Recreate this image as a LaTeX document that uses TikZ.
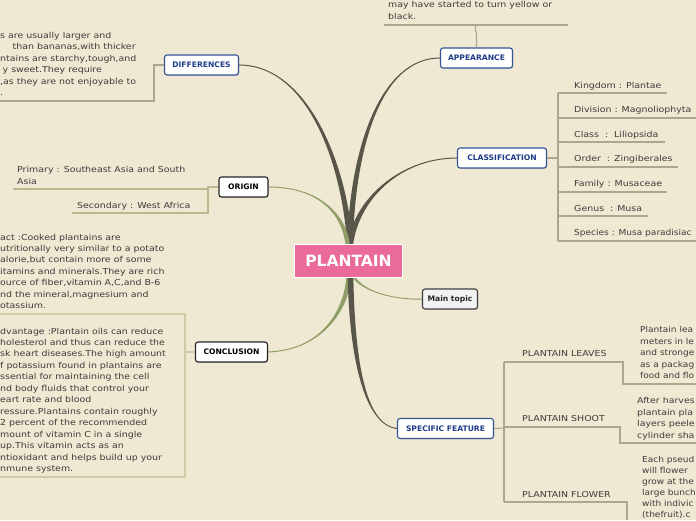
\documentclass[tikz,border=0pt]{standalone}
\usepackage{fontspec}
\setmainfont{DejaVu Sans}
\newfontfamily\bodyfont[FakeStretch=1.15]{DejaVu Sans}
\newfontfamily\narrowfont[FakeStretch=1.1]{DejaVu Sans}
\usetikzlibrary{calc,shadows}
\pgfdeclarelayer{back}
\pgfsetlayers{back,main}
\definecolor{bg}{RGB}{239,232,210}
\definecolor{pinkc}{RGB}{234,106,153}
\definecolor{darkbranch}{RGB}{88,86,72}
\definecolor{greenbranch}{RGB}{143,157,104}
\definecolor{nodeblue}{RGB}{52,84,150}
\definecolor{textblue}{RGB}{30,60,135}
\definecolor{txtgray}{RGB}{60,60,60}
\definecolor{grayline}{RGB}{170,166,146}
\definecolor{oliveline}{RGB}{182,188,142}
\definecolor{paleline}{RGB}{204,204,168}
% tapered branch: #1 end at topic, #2 #3 controls, #4 end in centre, #5 half width at topic, #6 half width at centre, #7 colour
\newcommand\branch[7]{\fill[#7] ($#1-#5$) .. controls ($#2-#5$) and ($#3-#6$) .. ($#4-#6$) -- ($#4+#6$) .. controls ($#3+#6$) and ($#2+#5$) .. ($#1+#5$) -- cycle;}
% lines of text: #1 name, #2 x, #3 first baseline, #4 line step, #5 list of lines
\newcommand\tlines[5]{\foreach \tline [count=\i] in {#5} {\node[txt,anchor=base west] (#1\i) at (#2,{#3+#4*(\i-1)}) {\tline};}}
\newcommand\tlinesn[5]{\foreach \tline [count=\i] in {#5} {\node[txt,font=\narrowfont\fontsize{8.2}{10}\selectfont,anchor=base west] (#1\i) at (#2,{#3+#4*(\i-1)}) {\tline};}}
\tikzset{
  topic/.style={draw, rounded corners=2.5pt, line width=1.1pt, fill=white, minimum height=20pt, inner sep=1pt,
    font=\bfseries\fontsize{7.6}{9}\selectfont,
    drop shadow={shadow xshift=0.7pt, shadow yshift=-0.9pt, opacity=0.3}},
  bluetopic/.style={topic, draw=nodeblue, text=textblue},
  blacktopic/.style={topic, draw=black!85, text=black},
  graytopic/.style={topic, draw=black!75, fill=black!5, text=black!85},
  txt/.style={font=\bodyfont\fontsize{8.2}{10}\selectfont, text=txtgray, inner sep=0pt},
  subline/.style={line width=1.1pt}
}
\begin{document}
\begin{tikzpicture}[x=1pt,y=-1pt]
\begin{pgfonlayer}{back}
\fill[bg] (0,0) rectangle (696,520);
\end{pgfonlayer}
\useasboundingbox (0,0) rectangle (696,520);

% central and main topics
\node[draw=white, line width=1.2pt, fill=pinkc, minimum width=108pt, minimum height=33pt, inner sep=0pt,
      text=white, font=\bfseries\fontsize{15.5}{18}\selectfont] (plantain) at (348.5,261) {PLANTAIN};
\node[bluetopic, minimum width=74pt] (diff) at (201.5,65) {DIFFERENCES};
\node[bluetopic, minimum width=72pt] (app) at (476.5,58) {APPEARANCE};
\node[bluetopic, minimum width=89pt] (class) at (502,158) {CLASSIFICATION};
\node[blacktopic, minimum width=49pt] (origin) at (243.5,187) {ORIGIN};
\node[graytopic, minimum width=55pt] (main) at (450,299) {Main topic};
\node[blacktopic, minimum width=72pt] (concl) at (231.5,352) {CONCLUSION};
\node[bluetopic, minimum width=96pt] (spec) at (445.5,428.5) {SPECIFIC FEATURE};

\coordinate (sA) at ($(plantain.north)+(1.5,3)$);
\coordinate (sO) at ($(plantain.north)+(-0.5,3)$);
\coordinate (sC) at ($(plantain.south)+(0.5,-3)$);
\coordinate (sS) at ($(plantain.south)+(2,-3)$);
\coordinate (sM) at ($(plantain.south)+(4,-3)$);

\begin{pgfonlayer}{back}
\branch{(diff.east)}{(310,65)}{(346,170)}{(sA)}{(0,0.5)}{(-2.8,0)}{darkbranch}
\branch{(app.west)}{(380,58)}{(352,150)}{(sA)}{(0,0.5)}{(2.8,0)}{darkbranch}
\branch{(class.west)}{(400,158)}{(355,200)}{(sA)}{(0,0.5)}{(2.8,0)}{darkbranch}
\branch{(origin.east)}{(320,187)}{(345,215)}{(sO)}{(0,0.5)}{(-2.2,0)}{greenbranch}
\branch{(concl.east)}{(322,350)}{(347,310)}{(sC)}{(0,0.5)}{(2.5,0)}{greenbranch}
\branch{(spec.west)}{(365,425)}{(352,360)}{(sS)}{(0,0.5)}{(-2.8,0)}{darkbranch}
\branch{(main.west)}{(395,300)}{(362,292)}{(sM)}{(0,0.5)}{(-1.5,0)}{greenbranch}
\end{pgfonlayer}

% DIFFERENCES
\draw[subline, grayline] (diff.west) -- (154,65) -- (154,101) -- (0,101);
\tlines{difftxt}{0}{38.3}{11.5}{{s are usually larger and},{\hspace*{12.5pt}than bananas,with thicker},{ntains are starchy,tough,and},{\hspace*{2.5pt}y sweet.They require},{,as they are not enjoyable to},{.}}

% APPEARANCE
\draw[subline, grayline] (384,25) -- (568,25);
\draw[subline, grayline] (app.north) -- (476.5,33) -- (475.5,31) -- (475.5,25);
\tlines{apptxt}{388}{7.5}{11.8}{{may have started to turn yellow or},{black.}}

% CLASSIFICATION
\draw[subline, grayline] (class.east) -- (558,158);
\draw[subline, grayline] (558,93) -- (558,241);
\draw[subline, grayline] (558,93) -- (667,93);
\draw[subline, grayline] (558,118) -- (696,118);
\draw[subline, grayline] (558,142) -- (665,142);
\draw[subline, grayline] (558,167) -- (678,167);
\draw[subline, grayline] (558,192) -- (667,192);
\draw[subline, grayline] (558,216) -- (648,216);
\draw[subline, grayline] (558,241) -- (696,241);
\tlines{cls}{574}{88}{24.65}{{Kingdom : Plantae},{Division : Magnoliophyta},{Class\ \ :\ \ Liliopsida},{Order\ \ : Zingiberales},{Family : Musaceae},{Genus\ \ : Musa}}
\tlinesn{clsb}{574}{235.9}{24.65}{{Species : Musa paradisiac}}

% ORIGIN
\draw[subline, oliveline] (origin.west) -- (208,187) -- (208,213) -- (72,213);
\draw[subline, oliveline] (208,189) -- (13,189);
\tlines{prim}{17}{172.3}{11.7}{{Primary : Southeast Asia and South},{Asia}}
\tlines{sec}{77}{208.3}{11.7}{{Secondary : West Africa}}

% CONCLUSION
\draw[subline, paleline] (concl.west) -- (185,352);
\draw[subline, paleline] (0,314) -- (185,314) -- (185,477) -- (0,477);
\tlines{fact}{0}{240}{11.4}{{act :Cooked plantains are},{utritionally very similar to a potato},{alorie,but contain more of some},{itamins and minerals.They are rich},{ource of fiber,vitamin A,C,and B-6},{nd the mineral,magnesium and},{otassium.}}
\tlines{adv}{0}{334}{11.47}{{dvantage :Plantain oils can reduce},{holesterol and thus can reduce the},{sk heart diseases.The high amount},{f potassium found in plantains are},{ssential for maintaining the cell},{nd body fluids that control your},{eart rate and blood},{ressure.Plantains contain roughly},{2 percent of the recommended},{mount of vitamin C in a single},{up.This vitamin acts as an},{ntioxidant and helps build up your},{nmune system.}}

% SPECIFIC FEATURE
\draw[subline, grayline] (spec.east) -- (504,428);
\draw[subline, grayline] (504,362) -- (504,502);
\draw[subline, grayline] (504,362) -- (623,362) -- (623,384) -- (696,384);
\draw[subline, grayline] (504,427) -- (620,427) -- (620,443) -- (696,443);
\draw[subline, grayline] (504,502) -- (627,502) -- (627,520);
\tlines{leaves}{522}{356}{11.5}{{PLANTAIN LEAVES}}
\tlines{shoot}{522}{421}{11.5}{{PLANTAIN SHOOT}}
\tlines{flower}{522}{497.3}{11.5}{{PLANTAIN FLOWER}}
\tlinesn{leavestxt}{640}{332.7}{11.5}{{Plantain lea},{meters in le},{and stronge},{as a packag},{food and flo}}
\tlines{shoottxt}{637}{403.7}{11.5}{{After harves},{plantain pla},{layers peele},{cylinder sha}}
\tlinesn{flowertxt}{642}{462}{11.1}{{Each pseud},{will flower},{grow at the},{large bunch},{with indivic},{(thefruit).c}}
\end{tikzpicture}
\end{document}
